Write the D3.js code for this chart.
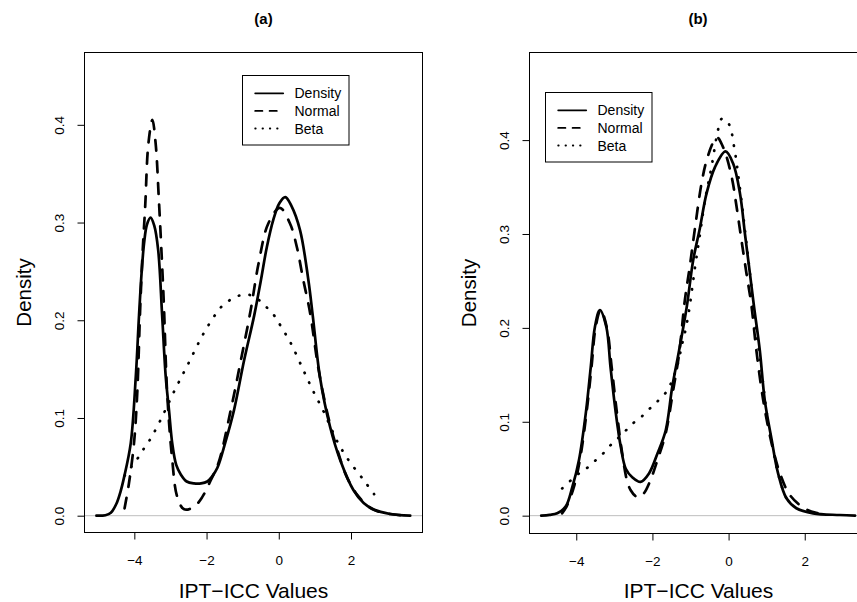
<!DOCTYPE html>
<html>
<head>
<meta charset="utf-8">
<script src="https://cdn.jsdelivr.net/npm/d3@7"></script>
<style>
	body { margin: 0; background: #fff; }
	svg { display: block; font-family: "Liberation Sans", Arial, Helvetica, sans-serif; }
</style>
</head>
<body>
<svg id="chart" width="857" height="602"></svg>
<script>
const xTicks = [-4, -2, 0, 2];
const yTicks = [0, 0.1, 0.2, 0.3, 0.4];
const seriesNames = ['Density', 'Normal', 'Beta'];
const panelTitles = ['(a)', '(b)'];
const xLabel = 'IPT\u2212ICC Values';
const yLabel = 'Density';

// panel (a) as [x, density]
const densityA = [[-5.05, 0], [-4.8, 0.0005], [-4.65, 0.003], [-4.5, 0.012], [-4.38, 0.025], [-4.28, 0.04],
	[-4.1, 0.074], [-3.96, 0.142], [-3.87, 0.205], [-3.8, 0.248], [-3.73, 0.279], [-3.65, 0.298], [-3.55, 0.305],
	[-3.45, 0.297], [-3.34, 0.272], [-3.23, 0.205], [-3.13, 0.142], [-3.04, 0.108], [-2.95, 0.074], [-2.84, 0.052],
	[-2.71, 0.042], [-2.55, 0.035], [-2.35, 0.033], [-2.15, 0.033], [-1.98, 0.035], [-1.85, 0.04], [-1.7, 0.049],
	[-1.48, 0.075], [-1.24, 0.108], [-0.96, 0.159], [-0.68, 0.205], [-0.5, 0.24], [-0.33, 0.275], [-0.15, 0.303],
	[0.02, 0.32], [0.18, 0.326], [0.35, 0.317], [0.59, 0.292], [0.82, 0.241], [0.94, 0.205], [1.14, 0.142],
	[1.42, 0.091], [1.7, 0.057], [2.07, 0.026], [2.35, 0.013], [2.62, 0.0065], [3.08, 0.0017], [3.64, 0]];
const normalA = [[-4.27, 0.0075], [-4.15, 0.033], [-4.01, 0.074], [-3.92, 0.125], [-3.84, 0.21], [-3.77, 0.27],
	[-3.7, 0.316], [-3.61, 0.381], [-3.5, 0.405], [-3.41, 0.381], [-3.32, 0.323], [-3.22, 0.248], [-3.18, 0.214],
	[-3.09, 0.125], [-2.95, 0.057], [-2.81, 0.019], [-2.62, 0.0065], [-2.35, 0.009], [-2.12, 0.019], [-1.9, 0.035],
	[-1.67, 0.054], [-1.33, 0.108], [-1.05, 0.159], [-0.78, 0.21], [-0.56, 0.258], [-0.29, 0.299], [0.03, 0.315],
	[0.31, 0.299], [0.5, 0.275], [0.68, 0.241], [0.87, 0.207], [1.1, 0.15], [1.37, 0.101], [1.65, 0.064],
	[1.88, 0.04], [2.2, 0.02], [2.6, 0.0065], [3.1, 0.0017], [3.6, 0]];
const betaA = [[-4.27, 0.041], [-3.92, 0.058], [-3.73, 0.069], [-3.58, 0.077], [-3.3, 0.096], [-2.9, 0.127],
	[-2.5, 0.156], [-2.09, 0.186], [-1.79, 0.204], [-1.61, 0.213], [-1.38, 0.22], [-1.12, 0.225], [-0.82, 0.226],
	[-0.56, 0.221], [-0.33, 0.213], [-0.13, 0.205], [0.04, 0.195], [0.34, 0.176], [0.68, 0.149], [0.96, 0.127],
	[1.25, 0.106], [1.62, 0.076], [1.93, 0.057], [2.34, 0.037], [2.64, 0.022]];

// panel (b)
const densityB = [[-4.92, 0], [-4.7, 0.0008], [-4.5, 0.0025], [-4.28, 0.0096], [-4.1, 0.031], [-3.93, 0.059],
	[-3.75, 0.109], [-3.62, 0.158], [-3.51, 0.201], [-3.38, 0.219], [-3.21, 0.201], [-3.1, 0.158], [-2.97, 0.112],
	[-2.83, 0.073], [-2.7, 0.05], [-2.53, 0.041], [-2.31, 0.036], [-2.09, 0.045], [-1.87, 0.066], [-1.65, 0.091],
	[-1.48, 0.137], [-1.3, 0.176], [-1.1, 0.222], [-0.93, 0.272], [-0.75, 0.307], [-0.58, 0.343], [-0.36, 0.371],
	[-0.08, 0.388], [0.12, 0.375], [0.3, 0.343], [0.43, 0.3], [0.56, 0.258], [0.67, 0.222], [0.82, 0.176],
	[0.95, 0.123], [1.13, 0.081], [1.3, 0.045], [1.52, 0.0185], [1.78, 0.0079], [2.22, 0.0025], [2.92, 0.0007],
	[3.32, 0]];
const normalB = [[-4.37, 0.0025], [-4.24, 0.011], [-4.06, 0.031], [-3.89, 0.063], [-3.73, 0.11], [-3.6, 0.158],
	[-3.49, 0.201], [-3.36, 0.219], [-3.2, 0.201], [-3.07, 0.158], [-2.94, 0.112], [-2.8, 0.068], [-2.66, 0.036],
	[-2.57, 0.027], [-2.45, 0.021], [-2.35, 0.0195], [-2.22, 0.024], [-2.05, 0.038], [-1.87, 0.059], [-1.65, 0.088],
	[-1.45, 0.135], [-1.3, 0.172], [-1.15, 0.229], [-1.02, 0.265], [-0.88, 0.307], [-0.71, 0.354], [-0.58, 0.378],
	[-0.4, 0.398], [-0.3, 0.403], [-0.12, 0.39], [0.08, 0.361], [0.21, 0.329], [0.34, 0.293], [0.47, 0.258],
	[0.6, 0.224], [0.73, 0.176], [0.91, 0.123], [1.13, 0.077], [1.35, 0.045], [1.61, 0.022], [1.99, 0.0078],
	[2.3, 0.003], [2.61, 0.0015]];
const betaB = [[-4.37, 0.029], [-3.93, 0.045], [-3.71, 0.051], [-3.49, 0.059], [-3.3, 0.066], [-3.1, 0.075],
	[-2.89, 0.083], [-2.69, 0.091], [-2.49, 0.099], [-2.27, 0.106], [-2.07, 0.114], [-1.86, 0.122], [-1.65, 0.131],
	[-1.48, 0.144], [-1.32, 0.164], [-1.22, 0.183], [-1.13, 0.198], [-1.04, 0.218], [-0.88, 0.265], [-0.75, 0.3],
	[-0.62, 0.336], [-0.45, 0.371], [-0.27, 0.412], [-0.17, 0.423], [0.01, 0.417], [0.14, 0.394], [0.3, 0.348],
	[0.47, 0.29], [0.58, 0.251], [0.7, 0.205], [0.85, 0.16], [1.0, 0.11], [1.15, 0.075], [1.3, 0.045],
	[1.5, 0.02], [1.65, 0.011]];

const panels = [
	{title: panelTitles[0], left: 84.5, top: 52.5, width: 338, height: 480, titleX: 263.5,
		xDomain: [-5.38, 3.98], yDomain: [-0.0172, 0.474], legend: [242.5, 75.5], series: [densityA, normalA, betaA]},
	{title: panelTitles[1], left: 529.5, top: 52.5, width: 338, height: 481, titleX: 698,
		xDomain: [-5.228, 3.648], yDomain: [-0.019, 0.4933], legend: [545.5, 92.5], series: [densityB, normalB, betaB]}
];

const curveStyle = [
	{dash: null},
	{dash: '10.8,10.8'},
	{dash: '0.5,10.3'}
];
const legendStyle = [
	{dash: null},
	{dash: '7.2,7.2'},
	{dash: '0.5,6.8'}
];

const svg = d3.select('#chart');
svg.append('rect').attr('width', 857).attr('height', 602).attr('fill', '#fff');

panels.forEach(p => {
	const x = d3.scaleLinear().domain(p.xDomain).range([p.left, p.left + p.width]);
	const y = d3.scaleLinear().domain(p.yDomain).range([p.top + p.height, p.top]);
	const g = svg.append('g');

	// zero line under the curves
	g.append('line')
		.attr('x1', p.left).attr('x2', p.left + p.width)
		.attr('y1', y(0)).attr('y2', y(0))
		.attr('stroke', '#bebebe').attr('stroke-width', 1);

	const line = d3.line()
		.x(d => x(d[0]))
		.y(d => y(d[1]))
		.curve(d3.curveCatmullRom.alpha(0.5));

	p.series.forEach((data, i) => {
		g.append('path')
			.datum(data)
			.attr('d', line)
			.attr('fill', 'none')
			.attr('stroke', '#000')
			.attr('stroke-width', 2.7)
			.attr('stroke-linecap', 'round')
			.attr('stroke-linejoin', 'round')
			.attr('stroke-dasharray', curveStyle[i].dash);
	});

	g.append('rect')
		.attr('x', p.left).attr('y', p.top)
		.attr('width', p.width).attr('height', p.height)
		.attr('fill', 'none').attr('stroke', '#000').attr('stroke-width', 1);

	const bottom = p.top + p.height;
	const xAxis = g.append('g')
		.attr('transform', `translate(0,${bottom})`)
		.call(d3.axisBottom(x).tickValues(xTicks).tickSize(7).tickFormat(d3.format('d')));
	xAxis.select('.domain').remove();
	xAxis.selectAll('text')
		.attr('y', 32).attr('dy', 0)
		.attr('font-size', 13.5).attr('font-family', null);

	const yAxis = g.append('g')
		.attr('transform', `translate(${p.left},0)`)
		.call(d3.axisLeft(y).tickValues(yTicks).tickSize(7).tickFormat(d3.format('.1f')));
	yAxis.select('.domain').remove();
	yAxis.selectAll('text')
		.attr('transform', 'rotate(-90)')
		.attr('x', 0).attr('y', -20.5).attr('dy', 0)
		.attr('text-anchor', 'middle')
		.attr('font-size', 13.5).attr('font-family', null);

	svg.append('text')
		.attr('x', p.titleX).attr('y', 24)
		.attr('text-anchor', 'middle')
		.attr('font-size', 15).attr('font-weight', 'bold')
		.text(p.title);

	svg.append('text')
		.attr('x', p.left + p.width / 2).attr('y', 598)
		.attr('text-anchor', 'middle')
		.attr('font-size', 21)
		.text(xLabel);

	svg.append('text')
		.attr('transform', `translate(${p.left - 54},${p.top + p.height / 2}) rotate(-90)`)
		.attr('text-anchor', 'middle')
		.attr('font-size', 20.5)
		.text(yLabel);

	// legend
	const [lx, ly] = p.legend;
	const lg = svg.append('g').attr('transform', `translate(${lx},${ly})`);
	lg.append('rect')
		.attr('width', 106.5).attr('height', 69.5)
		.attr('fill', '#fff').attr('stroke', '#000').attr('stroke-width', 1);
	seriesNames.forEach((name, i) => {
		const rowY = 17.8 + i * 17.6;
		lg.append('line')
			.attr('x1', 12.7).attr('x2', 40.7)
			.attr('y1', rowY).attr('y2', rowY)
			.attr('stroke', '#000').attr('stroke-width', 1.8)
			.attr('stroke-linecap', 'round')
			.attr('stroke-dasharray', legendStyle[i].dash);
		lg.append('text')
			.attr('x', 52).attr('y', rowY + 5)
			.attr('font-size', 14)
			.text(name);
	});
});
</script>
</body>
</html>
